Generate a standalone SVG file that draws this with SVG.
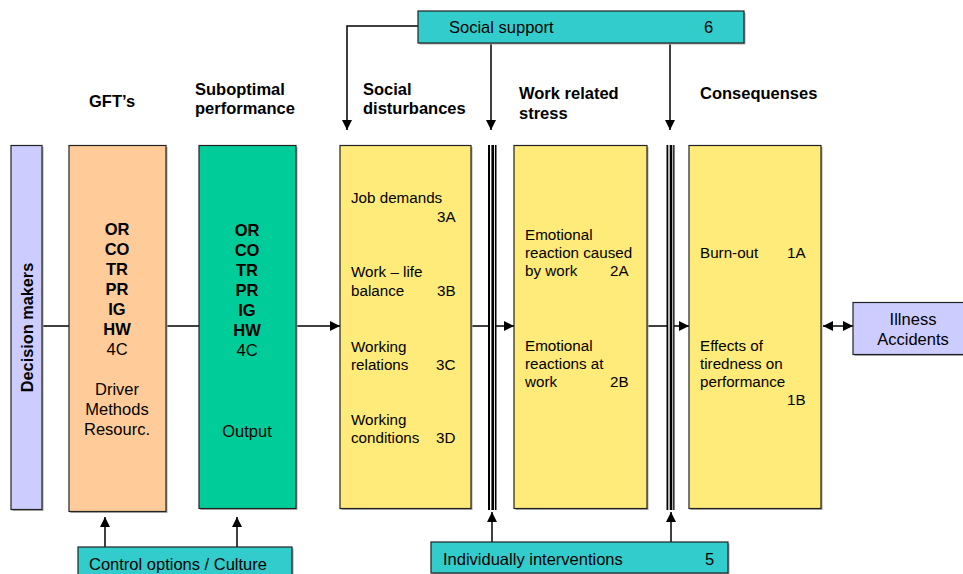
<svg xmlns="http://www.w3.org/2000/svg" width="963" height="574" viewBox="0 0 963 574">
  <defs>
    <marker id="arr" viewBox="0 0 10 10" refX="10" refY="5" markerWidth="10" markerHeight="10" markerUnits="userSpaceOnUse" orient="auto-start-reverse">
      <path d="M0,0 L10,5 L0,10 Z" fill="#000"/>
    </marker>
  </defs>
  <style>
    text { font-family: "Liberation Sans", Arial, sans-serif; font-size: 15.2px; fill: #000; }
    .h { font-weight: bold; font-size: 16.5px; }
    .b { font-weight: bold; font-size: 16.5px; }
    .l { font-size: 16.5px; }
    .c { text-anchor: middle; }
    .box { stroke: #222; stroke-width: 1.2; }
    .shadow { fill: #aaa; }
    .purple { fill: #ccccff; }
    .orange { fill: #ffcc99; }
    .green { fill: #00cc99; }
    .yellow { fill: #ffeb7a; }
    .teal { fill: #33cccc; }
    .line { stroke: #000; stroke-width: 1.5; fill: none; }
  </style>

  <rect width="963" height="574" fill="#fff"/>

  <!-- column headings -->
  <g id="headings">
    <text class="h" x="89" y="107">GFT’s</text>
    <text class="h" x="195" y="95">Suboptimal</text>
    <text class="h" x="195" y="114">performance</text>
    <text class="h" x="363" y="95">Social</text>
    <text class="h" x="363" y="114">disturbances</text>
    <text class="h" x="519" y="99">Work related</text>
    <text class="h" x="519" y="119">stress</text>
    <text class="h" x="700" y="99">Consequenses</text>
  </g>

  <!-- connectors -->
  <g id="connectors">
    <!-- main chain -->
    <line class="line" x1="42" y1="326" x2="69" y2="326"/>
    <line class="line" x1="166" y1="326" x2="199" y2="326"/>
    <line class="line" x1="297" y1="326" x2="340" y2="326" marker-end="url(#arr)"/>
    <line class="line" x1="472" y1="326" x2="514" y2="326" marker-end="url(#arr)"/>
    <line class="line" x1="648" y1="326" x2="689" y2="326" marker-end="url(#arr)"/>
    <line class="line" x1="823" y1="326" x2="853" y2="326" marker-start="url(#arr)" marker-end="url(#arr)"/>
    <!-- social support feeds -->
    <polyline class="line" points="418,26 347,26 347,130" marker-end="url(#arr)"/>
    <line class="line" x1="491" y1="43" x2="491" y2="130" marker-end="url(#arr)"/>
    <line class="line" x1="670" y1="43" x2="670" y2="130" marker-end="url(#arr)"/>
    <!-- individual interventions -->
    <line class="line" x1="492" y1="542" x2="492" y2="512" marker-end="url(#arr)"/>
    <line class="line" x1="671" y1="542" x2="671" y2="512" marker-end="url(#arr)"/>
    <!-- control options -->
    <line class="line" x1="105" y1="547" x2="105" y2="517" marker-end="url(#arr)"/>
    <line class="line" x1="237" y1="547" x2="237" y2="517" marker-end="url(#arr)"/>
  </g>

  <!-- barrier bars -->
  <g id="barrier1">
    <rect x="488" y="145" width="8.5" height="365" fill="#000"/>
    <rect x="490" y="145" width="1.4" height="365" fill="#fff"/>
    <rect x="494" y="145" width="0.9" height="365" fill="#fff"/>
  </g>
  <g id="barrier2">
    <rect x="666.5" y="145" width="8" height="365" fill="#000"/>
    <rect x="668.3" y="145" width="1.4" height="365" fill="#fff"/>
    <rect x="672.3" y="145" width="0.9" height="365" fill="#fff"/>
  </g>

  <g id="decision-makers">
    <rect class="shadow" x="12.5" y="147" width="31" height="364"/>
    <rect class="box purple" x="11" y="145.5" width="31" height="364"/>
    <text class="b c" style="font-size:16.3px" transform="translate(33,327.5) rotate(-90)">Decision makers</text>
  </g>

  <g id="gfts">
    <rect class="shadow" x="70.5" y="147" width="97" height="366"/>
    <rect class="box orange" x="69" y="145.5" width="97" height="366"/>
    <text class="b c" x="117" y="235">OR</text>
    <text class="b c" x="117" y="255">CO</text>
    <text class="b c" x="117" y="275">TR</text>
    <text class="b c" x="117" y="295">PR</text>
    <text class="b c" x="117" y="315">IG</text>
    <text class="b c" x="117" y="335">HW</text>
    <text class="c l" x="117" y="355">4C</text>
    <text class="c l" x="117" y="395">Driver</text>
    <text class="c l" x="117" y="415">Methods</text>
    <text class="c l" x="117" y="435">Resourc.</text>
  </g>

  <g id="suboptimal">
    <rect class="shadow" x="200.5" y="147" width="97" height="363"/>
    <rect class="box green" x="199" y="145.5" width="97" height="363"/>
    <text class="b c" x="247" y="236">OR</text>
    <text class="b c" x="247" y="256">CO</text>
    <text class="b c" x="247" y="276">TR</text>
    <text class="b c" x="247" y="296">PR</text>
    <text class="b c" x="247" y="316">IG</text>
    <text class="b c" x="247" y="336">HW</text>
    <text class="c l" x="247" y="356">4C</text>
    <text class="c l" x="247" y="437">Output</text>
  </g>

  <g id="social-disturbances">
    <rect class="shadow" x="341.5" y="147" width="131" height="363"/>
    <rect class="box yellow" x="340" y="145.5" width="131" height="363"/>
    <text x="351" y="203">Job demands</text>
    <text x="437" y="222">3A</text>
    <text x="351" y="277">Work – life</text>
    <text x="351" y="296">balance</text>
    <text x="437" y="296">3B</text>
    <text x="351" y="352">Working</text>
    <text x="351" y="370">relations</text>
    <text x="436" y="370">3C</text>
    <text x="351" y="425">Working</text>
    <text x="351" y="443">conditions</text>
    <text x="436" y="443">3D</text>
  </g>

  <g id="work-stress">
    <rect class="shadow" x="515.5" y="147" width="133" height="363"/>
    <rect class="box yellow" x="514" y="145.5" width="133" height="363"/>
    <text x="525" y="240">Emotional</text>
    <text x="525" y="258">reaction caused</text>
    <text x="525" y="276">by work</text>
    <text x="610" y="276">2A</text>
    <text x="525" y="351">Emotional</text>
    <text x="525" y="369">reactions at</text>
    <text x="525" y="387">work</text>
    <text x="610" y="387">2B</text>
  </g>

  <g id="consequences">
    <rect class="shadow" x="690.5" y="147" width="132" height="363"/>
    <rect class="box yellow" x="689" y="145.5" width="132" height="363"/>
    <text x="700" y="258">Burn-out</text>
    <text x="787" y="258">1A</text>
    <text x="700" y="351">Effects of</text>
    <text x="700" y="369">tiredness on</text>
    <text x="700" y="387">performance</text>
    <text x="787" y="405">1B</text>
  </g>

  <g id="illness">
    <rect class="shadow" x="854.5" y="304" width="115" height="52"/>
    <rect class="box purple" x="853" y="302.5" width="115" height="52"/>
    <text class="c l" x="913" y="325">Illness</text>
    <text class="c l" x="913" y="345">Accidents</text>
  </g>

  <g id="social-support">
    <rect class="shadow" x="419.5" y="12.5" width="326" height="32"/>
    <rect class="box teal" x="418" y="11" width="326" height="32"/>
    <text class="l" x="449" y="33">Social support</text>
    <text class="l" x="704" y="33">6</text>
  </g>

  <g id="individual-interventions">
    <rect class="shadow" x="432.5" y="543.5" width="297" height="32"/>
    <rect class="box teal" x="431" y="542" width="297" height="31"/>
    <text class="l" x="443" y="565">Individually interventions</text>
    <text class="l" x="705" y="565">5</text>
  </g>

  <g id="control-options">
    <rect class="shadow" x="79.5" y="548.5" width="214" height="30"/>
    <rect class="box teal" x="78" y="547" width="214" height="30"/>
    <text class="l" x="89" y="570">Control options / Culture</text>
  </g>
</svg>
